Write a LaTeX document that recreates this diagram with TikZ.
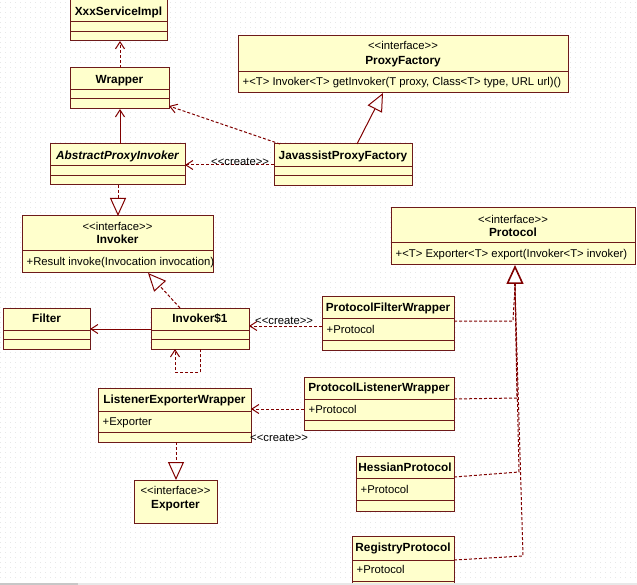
\documentclass[tikz,border=0pt]{standalone}
\usepackage{fontspec}
\setmainfont{Liberation Sans}[Ligatures=TeXOff]
\usetikzlibrary{arrows.meta}
\definecolor{lc}{HTML}{800000}
\definecolor{bc}{HTML}{6E1A1A}
\definecolor{fillc}{HTML}{FFFFCC}
\newcommand\umlbox[5]{\node[box, minimum width={(#4)-(#2)}, minimum height={(#5)-(#3)}] (#1) at ({((#2)+(#4))/2},{((#3)+(#5))/2}) {};}
\newcommand\hsep[2]{\draw[draw=bc, line width=1pt] (#1.west |- 0,#2) -- (#1.east |- 0,#2);}
\begin{document}
\begin{tikzpicture}[x=1pt,y=-1pt,
  box/.style={draw=bc, fill=fillc, line width=1pt, inner sep=0pt, outer sep=0pt, rectangle},
  ttl/.style={font=\fontsize{11.8}{14}\selectfont\bfseries, inner sep=0pt, anchor=base},
  txt/.style={font=\fontsize{11.3}{14}\selectfont, inner sep=0pt, anchor=base},
  att/.style={txt, anchor=base west},
  dashl/.style={draw=lc, line width=1pt, dash pattern=on 3pt off 2pt},
  dep/.style={dashl, -{Straight Barb[length=7pt,width=9pt]}},
  assoc/.style={draw=lc, line width=1pt, -{Straight Barb[length=7pt,width=9pt]}},
  real/.style={dashl, -{Triangle[open,length=18pt,width=16pt]}},
  gen/.style={draw=lc, line width=1pt, -{Triangle[open,length=18pt,width=16pt]}}]
\useasboundingbox (0,0) rectangle (637,585);
\fill[white] (0,0) rectangle (637,585);
\foreach \yy in {2.5,7.5,...,582}
  \draw[black!9, line width=0.8pt, dash pattern=on 0.8pt off 4.2pt] (0,\yy) -- (637,\yy);

% boxes
\umlbox{xxx}{70}{-1.5}{167}{41}
\hsep{xxx}{22}\hsep{xxx}{32}
\node[ttl] at (xxx.center |- 0,16) {XxxServiceImpl};

\umlbox{wrap}{70}{68}{169}{109}
\hsep{wrap}{90}\hsep{wrap}{99}
\node[ttl] at (wrap.center |- 0,84) {Wrapper};

\umlbox{api}{50}{144}{185}{185}
\hsep{api}{166}\hsep{api}{176}
\node[ttl, font=\fontsize{11.8}{14}\selectfont\bfseries\itshape] at (api.center |- 0,159.5) {AbstractProxyInvoker};

\umlbox{jpf}{274}{144}{412}{186}
\hsep{jpf}{167}\hsep{jpf}{176}
\node[ttl] at (jpf.center |- 0,159.5) {JavassistProxyFactory};

\umlbox{pf}{238}{36}{568}{93}
\hsep{pf}{72}
\node[txt] at (pf.center |- 0,50) {<<interface>>};
\node[ttl] at (pf.center |- 0,64.5) {ProxyFactory};
\node[att] at (242.5,86) {+<T> Invoker<T> getInvoker(T proxy, Class<T> type, URL url)()};

\umlbox{inv}{22}{216}{213}{273}
\hsep{inv}{251}
\node[txt] at (inv.center |- 0,230.5) {<<interface>>};
\node[ttl] at (inv.center |- 0,244) {Invoker};
\node[att] at (26.5,266) {+Result invoke(Invocation invocation)};

\umlbox{filter}{3}{308}{90}{349}
\hsep{filter}{330}\hsep{filter}{339}
\node[ttl] at (filter.center |- 0,323) {Filter};

\umlbox{inv1}{151}{308}{249}{349}
\hsep{inv1}{330}\hsep{inv1}{339}
\node[ttl] at (inv1.center |- 0,323) {Invoker\$1};

\umlbox{pfw}{322}{297}{454}{350}
\hsep{pfw}{318}\hsep{pfw}{340}
\node[ttl] at (pfw.center |- 0,311.5) {ProtocolFilterWrapper};
\node[att] at (326.5,333) {+Protocol};

\umlbox{proto}{391}{208}{635}{265}
\hsep{proto}{243}
\node[txt] at (proto.center |- 0,223.5) {<<interface>>};
\node[ttl] at (proto.center |- 0,236.5) {Protocol};
\node[att] at (395.5,258) {+<T> Exporter<T> export(Invoker<T> invoker)};

\umlbox{plw}{304}{377}{454}{430}
\hsep{plw}{399}\hsep{plw}{420}
\node[ttl] at (plw.center |- 0,391) {ProtocolListenerWrapper};
\node[att] at (308.5,413) {+Protocol};

\umlbox{lew}{98}{388}{251}{442}
\hsep{lew}{411}\hsep{lew}{432}
\node[ttl] at (lew.center |- 0,403) {ListenerExporterWrapper};
\node[att] at (102.5,425) {+Exporter};

\umlbox{exp}{134}{480}{217}{523}
\node[txt] at (exp.center |- 0,494) {<<interface>>};
\node[ttl] at (exp.center |- 0,508) {Exporter};

\umlbox{hes}{356}{456}{454}{511}
\hsep{hes}{478}\hsep{hes}{500}
\node[ttl] at (hes.center |- 0,471.5) {HessianProtocol};
\node[att] at (360.5,493) {+Protocol};

\umlbox{reg}{352}{536}{454}{590}
\hsep{reg}{560}\hsep{reg}{581}
\node[ttl] at (reg.center |- 0,551) {RegistryProtocol};
\node[att] at (356.5,573) {+Protocol};

% connectors
\draw[dep] (wrap.north -| 120,0) -- (xxx.south -| 120,0);
\draw[assoc] (api.north -| 120,0) -- (wrap.south -| 120,0);
\draw[dep] (jpf.north -| 280,0) -- (wrap.east |- 0,106);
\draw[dep] (jpf.west |- 0,165) -- (api.east |- 0,165);
\node[att] (c1) at (211,166) {<<create>>};
\draw[gen] (jpf.north -| 357,0) -- (pf.south -| 383,0);
\draw[real] (api.south -| 118,0) -- (inv.north -| 118,0);
\draw[real] (inv1.north -| 180,0) -- (inv.south -| 148,0);
\draw[assoc] (inv1.west |- 0,329) -- (filter.east |- 0,329);
\draw[dep] (inv1.south -| 200,0) -- (200,372) -- (175,372) -- (inv1.south -| 175,0);
\draw[dep] (pfw.west |- 0,326) -- (inv1.east |- 0,326);
\node[att] (c2) at (255,324) {<<create>>};
\draw[dep] (plw.west |- 0,409) -- (lew.east |- 0,409);
\node[att] (c3) at (250,441.5) {<<create>>};
\draw[real] (lew.south -| 176,0) -- (exp.north -| 176,0);

\coordinate (tb) at (515,286);
\draw[dashl] (pfw.east |- 0,321) -- (513,321) -- (tb);
\draw[dashl] (plw.east |- 0,399) -- (517,398) -- (tb);
\draw[dashl] (hes.east |- 0,477) -- (519,472) -- (tb);
\draw[dashl] (reg.east |- 0,560) -- (523,556) -- (tb);
\draw[draw=lc, line width=1.6pt, -{Triangle[open,length=19pt,width=17pt]}] (tb) -- (proto.south -| tb);

% bottom bar
\fill[black!9] (0,582.5) rectangle (637,585);
\fill[black!22] (0,582.5) rectangle (78,585);
\end{tikzpicture}
\end{document}
